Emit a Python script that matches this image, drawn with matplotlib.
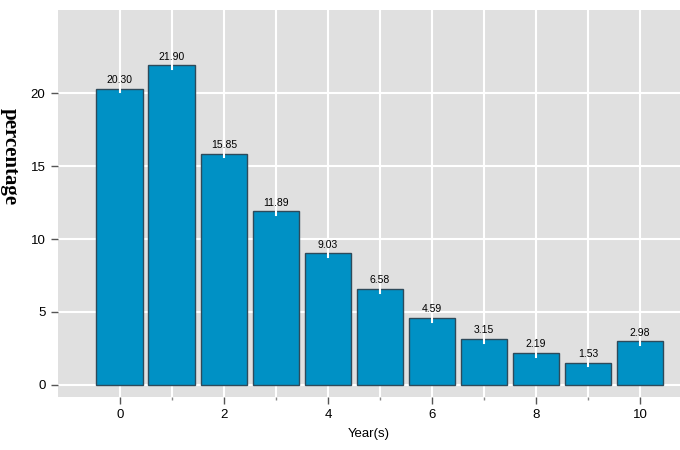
import numpy as np
import matplotlib.pyplot as plt

# Data
years = np.arange(0, 11)
percentages = [20.30, 21.90, 15.85, 11.89, 9.03, 6.58, 4.59, 3.15, 2.19, 1.53, 2.98]
bar_labels = [f"{v:.2f}" for v in percentages]

c_bar = '#0091C5'
c_edge = '#2E4A5A'
c_bg = '#E0E0E0'

fig = plt.figure(figsize=(6.8, 4.5), dpi=100)
ax = fig.add_axes([0.0853, 0.118, 0.9147, 0.86])
ax.set_facecolor(c_bg)

ax.bar(years, percentages, width=0.9, color=c_bar, edgecolor=c_edge, linewidth=1.0, zorder=2)

# small white mark at bar tops + value labels
for x, v, lab in zip(years, percentages, bar_labels):
    ax.plot([x, x], [v - 0.25, v], color='white', linewidth=1.5, zorder=3)
    ax.text(x, v + 0.25, lab, ha='center', va='bottom', fontsize=7.5,
            family='Liberation Sans', color='black', zorder=4)

ax.set_xlim(-1.19, 10.77)
ax.set_ylim(-0.82, 25.7)

ax.set_xticks(range(0, 11, 2))
ax.set_xticks(range(1, 11, 2), minor=True)
ax.set_yticks([0, 5, 10, 15, 20])

ax.grid(True, which='both', axis='x', color='white', linewidth=1.5, zorder=0)
ax.grid(True, which='major', axis='y', color='white', linewidth=1.5, zorder=0)
ax.set_axisbelow(True)

for s in ax.spines.values():
    s.set_visible(False)

ax.tick_params(axis='both', which='major', length=5, width=1, color='#555555',
               labelsize=9.5, pad=4)
ax.tick_params(axis='x', which='minor', length=2, width=1, color='#888888')
for lab in ax.get_xticklabels() + ax.get_yticklabels():
    lab.set_family('Liberation Sans')

ax.set_xlabel('Year(s)', fontsize=9.5, family='Liberation Sans', labelpad=5)

# y label sits above the axes centre and reads top-to-bottom
fig.text(10 / 680, 1 - 157 / 450, 'percentage', rotation=270, ha='center', va='center',
         fontsize=15, family='Liberation Serif', fontweight='bold')

fig.savefig('out.png', dpi=100)
